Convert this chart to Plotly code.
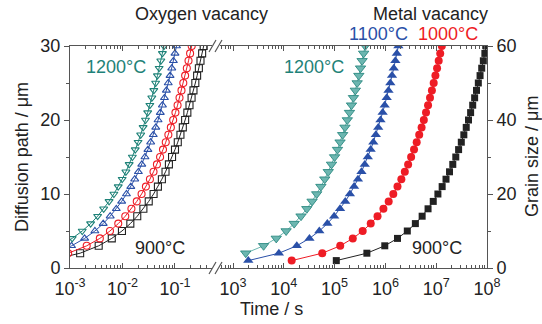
import plotly.graph_objects as go

# ---------------- data ----------------
# Oxygen vacancy: diffusion path (um) vs time (s)
diff_path = [1, 2, 3, 4, 5, 6, 7, 8, 9, 10, 11, 12, 13, 14, 15, 16, 17, 18, 19, 20,
             21, 22, 23, 24, 25, 26, 27, 28, 29, 30]
t_o900 = [0.00039, 0.00156, 0.00352, 0.00625, 0.00977, 0.0141, 0.0191, 0.025, 0.0316, 0.0391,
          0.0473, 0.0563, 0.066, 0.0766, 0.0879, 0.1, 0.113, 0.127, 0.141, 0.156,
          0.172, 0.189, 0.207, 0.225, 0.244, 0.264, 0.285, 0.306, 0.329, 0.352]
t_o1000 = [0.000231, 0.000924, 0.00208, 0.0037, 0.00577, 0.00831, 0.0113, 0.0148, 0.0187, 0.0231,
           0.0279, 0.0333, 0.039, 0.0453, 0.052, 0.0591, 0.0667, 0.0748, 0.0834, 0.0924,
           0.102, 0.112, 0.122, 0.133, 0.144, 0.156, 0.168, 0.181, 0.194, 0.208]
t_o1100 = [0.000119, 0.000476, 0.00107, 0.0019, 0.00298, 0.00429, 0.00583, 0.00762, 0.00964, 0.0119,
           0.0144, 0.0171, 0.0201, 0.0233, 0.0268, 0.0305, 0.0344, 0.0386, 0.043, 0.0476,
           0.0525, 0.0576, 0.063, 0.0686, 0.0744, 0.0805, 0.0868, 0.0933, 0.1, 0.107]
t_o1200 = [0.0000685, 0.000274, 0.000616, 0.0011, 0.00171, 0.00247, 0.00336, 0.00438, 0.00555, 0.00685,
           0.00829, 0.00986, 0.0116, 0.0134, 0.0154, 0.0175, 0.0198, 0.0222, 0.0247, 0.0274,
           0.0302, 0.0332, 0.0362, 0.0395, 0.0428, 0.0463, 0.0499, 0.0537, 0.0576, 0.0616]

# Metal vacancy: grain size (um) vs time (s)
grain = [2, 4, 6, 8, 10, 12, 14, 16, 18, 20, 22, 24, 26, 28, 30, 32, 34, 36, 38, 40,
         42, 44, 46, 48, 50, 52, 54, 56, 58, 60]
t_m900 = [1.08e5, 4.32e5, 9.72e5, 1.73e6, 2.7e6, 3.89e6, 5.29e6, 6.91e6, 8.75e6, 1.08e7,
          1.31e7, 1.56e7, 1.83e7, 2.12e7, 2.43e7, 2.76e7, 3.12e7, 3.5e7, 3.9e7, 4.32e7,
          4.76e7, 5.23e7, 5.71e7, 6.22e7, 6.75e7, 7.3e7, 7.87e7, 8.47e7, 9.08e7, 9.72e7]
t_m1000 = [1.43e4, 5.71e4, 1.29e5, 2.28e5, 3.57e5, 5.14e5, 7.0e5, 9.14e5, 1.16e6, 1.43e6,
           1.73e6, 2.06e6, 2.41e6, 2.8e6, 3.21e6, 3.66e6, 4.13e6, 4.63e6, 5.16e6, 5.71e6,
           6.3e6, 6.91e6, 7.55e6, 8.23e6, 8.93e6, 9.65e6, 1.04e7, 1.12e7, 1.2e7, 1.29e7]
t_m1100 = [2.0e3, 8.0e3, 1.8e4, 3.2e4, 5.0e4, 7.2e4, 9.8e4, 1.28e5, 1.62e5, 2.0e5,
           2.42e5, 2.88e5, 3.38e5, 3.92e5, 4.5e5, 5.12e5, 5.78e5, 6.48e5, 7.22e5, 8.0e5,
           8.82e5, 9.68e5, 1.06e6, 1.15e6, 1.25e6, 1.35e6, 1.46e6, 1.57e6, 1.68e6, 1.8e6]
grain_1200 = [4, 6, 8, 10, 12, 14, 16, 18, 20, 22, 24, 26, 28, 30, 32, 34, 36, 38, 40,
              42, 44, 46, 48, 50, 52, 54, 56, 58, 60]
t_m1200 = [1.78e3, 4.0e3, 7.1e3, 1.11e4, 1.6e4, 2.18e4, 2.84e4, 3.6e4, 4.44e4,
           5.37e4, 6.4e4, 7.5e4, 8.7e4, 1.0e5, 1.14e5, 1.28e5, 1.44e5, 1.6e5, 1.78e5,
           1.96e5, 2.15e5, 2.35e5, 2.56e5, 2.78e5, 3.0e5, 3.24e5, 3.48e5, 3.73e5, 4.0e5]

left_ticks = [1e-3, 1e-2, 1e-1]
left_ticktext = ["10<sup>-3</sup>", "10<sup>-2</sup>", "10<sup>-1</sup>"]
right_ticks = [1e3, 1e4, 1e5, 1e6, 1e7, 1e8]
right_ticktext = ["10<sup>3</sup>", "10<sup>4</sup>", "10<sup>5</sup>", "10<sup>6</sup>",
                  "10<sup>7</sup>", "10<sup>8</sup>"]

# ---------------- style ----------------
W, H = 542, 324
ML, MR, MT, MB = 70, 55, 46, 56
PW, PH = W - ML - MR, H - MT - MB
FONT = "Liberation Sans, Arial, sans-serif"
AX = "#555555"
TXT = "#222222"
C_BLACK = "#222222"
C_RED = "#ee1c25"
C_BLUE = "#2a50a8"
C_TEAL = "#1e8278"
C_TEAL_L = "#6cb6b0"


def px(x):
    return (x - ML) / PW


def py(y):
    return (H - MB - y) / PH


fig = go.Figure()

left_series = [
    (t_o900, C_BLACK, "square-open"),
    (t_o1000, C_RED, "circle-open"),
    (t_o1100, C_BLUE, "triangle-up-open"),
    (t_o1200, C_TEAL, "triangle-down-open"),
]
for t, c, sym in left_series:
    fig.add_trace(go.Scatter(
        x=t, y=diff_path, mode="lines+markers", xaxis="x", yaxis="y",
        line=dict(color=c, width=1),
        marker=dict(symbol=sym, size=7, color=c, line=dict(width=1.1, color=c)),
        showlegend=False))

fig.add_trace(go.Scatter(
    x=t_m1200, y=grain_1200, mode="lines+markers", xaxis="x2", yaxis="y2",
    line=dict(color=C_TEAL_L, width=1),
    marker=dict(symbol="triangle-down", size=9, color=C_TEAL_L,
                line=dict(width=0.8, color=C_TEAL)),
    showlegend=False))
right_series = [
    (t_m1100, C_BLUE, "triangle-up", 9),
    (t_m1000, C_RED, "circle", 8),
    (t_m900, C_BLACK, "square", 7),
]
for t, c, sym, s in right_series:
    fig.add_trace(go.Scatter(
        x=t, y=grain, mode="lines+markers", xaxis="x2", yaxis="y2",
        line=dict(color=c, width=1),
        marker=dict(symbol=sym, size=s, color=c, line=dict(width=0)),
        showlegend=False))

tickfont = dict(family=FONT, size=18, color=TXT)
x_common = dict(type="log", showgrid=False, zeroline=False, showline=True,
                linecolor=AX, linewidth=1, mirror="ticks", ticks="inside",
                ticklen=5, tickcolor=AX, tickfont=tickfont, anchor="y",
                tickmode="array", ticklabelstandoff=4, automargin=False,
                minor=dict(ticks="inside", ticklen=3, tickcolor=AX, dtick="D1",
                           showgrid=False))

fig.update_layout(
    width=W, height=H, autosize=False,
    margin=dict(l=ML, r=MR, t=MT, b=MB),
    paper_bgcolor="white", plot_bgcolor="white",
    font=dict(family=FONT, size=18, color=TXT),
    xaxis=dict(x_common, domain=[0, px(212)], range=[-3, -0.295],
               tickvals=left_ticks, ticktext=left_ticktext),
    xaxis2=dict(x_common, domain=[px(220), 1], range=[2.744, 8],
                tickvals=right_ticks, ticktext=right_ticktext),
    yaxis=dict(range=[0, 30], anchor="x", showgrid=False, zeroline=False,
               showline=True, linecolor=AX, linewidth=1, ticks="outside",
               ticklen=5, tickcolor=AX, tickvals=[0, 10, 20, 30], tickfont=tickfont,
               automargin=False,
               minor=dict(ticks="outside", ticklen=3, tickcolor=AX,
                          tickvals=[5, 15, 25])),
    yaxis2=dict(range=[0, 60], anchor="x2", overlaying="y", side="right",
                showgrid=False, zeroline=False, showline=True, linecolor=AX,
                linewidth=1, ticks="outside", ticklen=5, tickcolor=AX,
                tickvals=[0, 20, 40, 60], tickfont=tickfont, automargin=False,
                minor=dict(ticks="outside", ticklen=3, tickcolor=AX,
                           tickvals=[10, 30, 50])),
)

labels = [
    ("Time / s", 271, 309, TXT),
    ("Oxygen vacancy", 201, 14, TXT),
    ("Metal vacancy", 430, 14, TXT),
    ("1100°C", 378, 34, C_BLUE),
    ("1000°C", 448, 34, C_RED),
    ("1200°C", 116, 67, C_TEAL),
    ("1200°C", 314, 67, C_TEAL),
    ("900°C", 160, 248, TXT),
    ("900°C", 437, 248, TXT),
]
for text, x, y, c in labels:
    fig.add_annotation(text=text, xref="paper", yref="paper", x=px(x), y=py(y),
                       showarrow=False, font=dict(family=FONT, size=18, color=c),
                       xanchor="center", yanchor="middle")

# rotated axis titles
for text, x in (("Diffusion path / μm", 22), ("Grain size / μm", 532)):
    fig.add_annotation(text=text, xref="paper", yref="paper", x=px(x), y=py(157),
                       showarrow=False, textangle=-90,
                       font=dict(family=FONT, size=18, color=TXT),
                       xanchor="center", yanchor="middle")

# axis break marks
for ybase in (MT, H - MB):
    for x0 in (209, 215):
        fig.add_shape(type="line", xref="paper", yref="paper",
                      x0=px(x0), y0=py(ybase + 6), x1=px(x0 + 7), y1=py(ybase - 6),
                      line=dict(color=AX, width=1.2))

fig.write_html("out.html")
